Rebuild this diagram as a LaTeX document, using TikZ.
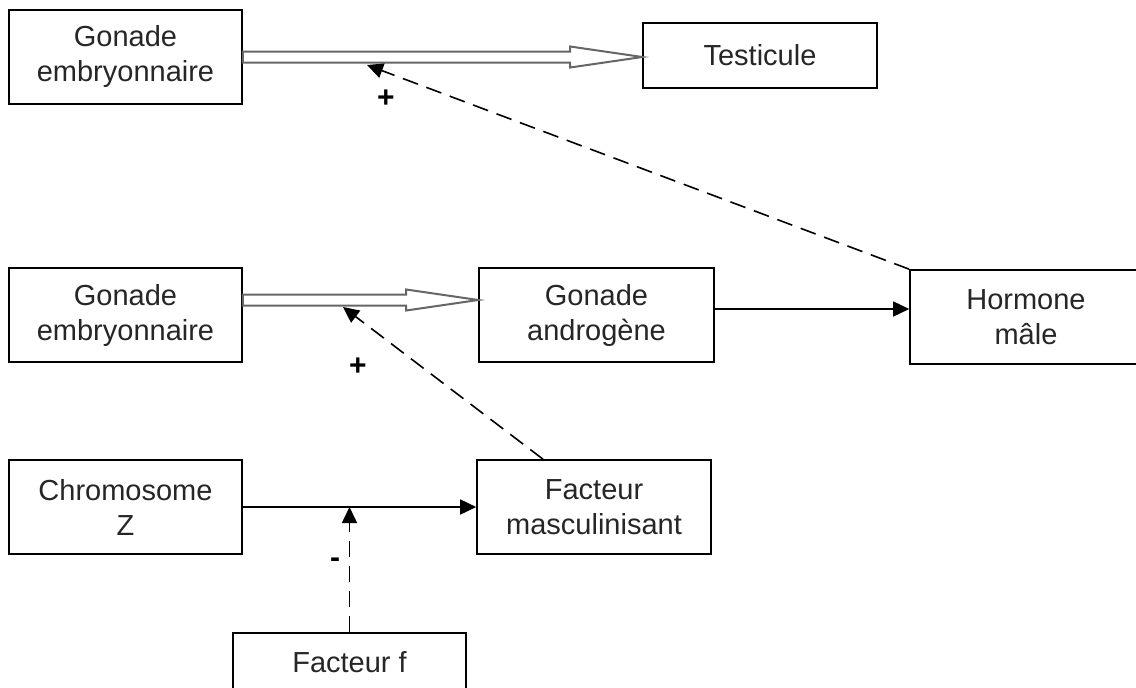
\documentclass[tikz,border=0pt]{standalone}
\usepackage{fontspec}
\setmainfont{Liberation Sans}
\usetikzlibrary{calc,arrows.meta}
\tikzset{
  box/.style={draw=black, line width=1.6pt, rectangle, align=center, inner sep=0pt,
    font=\fontsize{29}{35}\selectfont, text=black!85},
  hollow/.style={draw=black!60, line width=2pt, fill=white, line join=miter},
  solidarrow/.style={draw=black, line width=1.6pt, -{Triangle[length=16pt,width=15pt]}},
  dasharrow/.style={draw=black, line width=1.6pt, dash pattern=on 16pt off 9pt, -{Triangle[length=16pt,width=15pt]}},
  sign/.style={font=\fontsize{30}{30}\selectfont\bfseries, text=black, inner sep=0pt}
}
\begin{document}
\begin{tikzpicture}[x=1pt,y=-1pt]
\useasboundingbox (0,0) rectangle (1136,688);
\clip (0,0) rectangle (1136,688);
\fill[white] (0,0) rectangle (1136,688);

\node[box, minimum width=233pt, minimum height=94pt] (g1) at (125.5,57) {Gonade\\embryonnaire};
\node[box, minimum width=234pt, minimum height=65pt] (tes) at (760,55.5) {Testicule};
\node[box, minimum width=233pt, minimum height=94pt] (g2) at (125.5,315) {Gonade\\embryonnaire};
\node[box, minimum width=235pt, minimum height=94pt] (ga) at (596.5,315) {Gonade\\androgène};
\node[box, minimum width=232pt, minimum height=94pt] (hm) at (1026,317) {Hormone\\mâle};
\node[box, minimum width=233pt, minimum height=94pt] (ch) at (125.5,507) {Chromosome\\Z};
\node[box, minimum width=234pt, minimum height=94pt] (fm) at (594,507) {Facteur\\masculinisant};
\node[box, minimum width=233pt, minimum height=58pt] (ff) at (349.5,662) {Facteur f};

% hollow arrows
\draw[hollow] let \p1=(g1.east), \p2=(tes.west) in
  (\x1,\y1+5.5pt) -- (\x2-72pt,\y1+5.5pt) -- (\x2-72pt,\y1+10.5pt) -- (\x2,\y1)
  -- (\x2-72pt,\y1-10.5pt) -- (\x2-72pt,\y1-5.5pt) -- (\x1,\y1-5.5pt) -- cycle;
\coordinate (s2) at ($(g2.east)+(0,-15)$);
\draw[hollow] let \p1=(s2), \p2=(ga.west) in
  (\x1,\y1+5.5pt) -- (\x2-72pt,\y1+5.5pt) -- (\x2-72pt,\y1+10.5pt) -- (\x2,\y1)
  -- (\x2-72pt,\y1-10.5pt) -- (\x2-72pt,\y1-5.5pt) -- (\x1,\y1-5.5pt) -- cycle;

% solid arrows
\coordinate (ga2) at ($(ga.east)+(0,-6)$);
\draw[solidarrow] (ga2) -- (hm.west |- ga2);
\draw[solidarrow] (ch.east) -- (fm.west);

% dashed arrows
\coordinate (t1) at (367,65);
\draw[dasharrow] (hm.north west) -- (t1);
\coordinate (t2) at (343,307);
\coordinate (f2) at ($(fm.north)+(-51,0)$);
\draw[dasharrow] (f2) -- (t2);
\coordinate (t3) at (ff.north |- ch.east);
\draw[dasharrow] (ff.north) -- (t3);

% signs
\node[sign] (p1) at (386,99) {+};
\node[sign] (p2) at (358,367) {+};
\node[sign] (m1) at (335,563) {-};
\end{tikzpicture}
\end{document}
